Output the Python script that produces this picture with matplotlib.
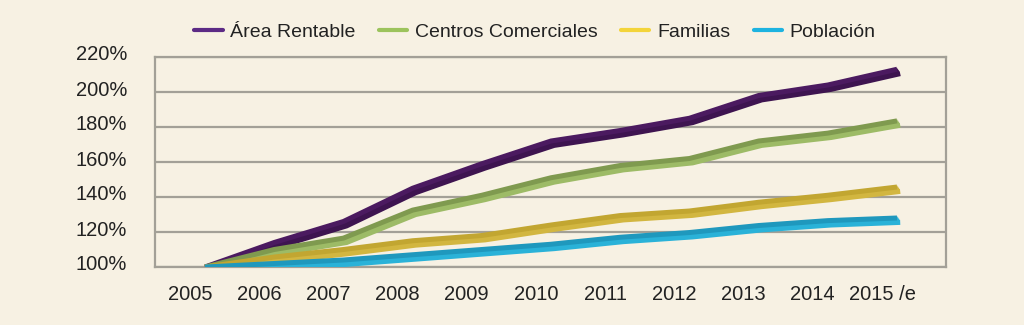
import matplotlib
matplotlib.use('Agg')
import matplotlib.pyplot as plt
import matplotlib.transforms as mtransforms
from matplotlib.lines import Line2D

plt.rcParams['font.family'] = ['Liberation Sans', 'DejaVu Sans']

years = ['2005', '2006', '2007', '2008', '2009', '2010', '2011', '2012', '2013', '2014', '2015 /e']
area_rentable = [100, 114, 126, 145, 159, 172, 178, 185, 198, 204, 213]
centros_comerciales = [100, 110, 116.5, 132.5, 141, 151, 158, 162, 172, 176.5, 183.5]
familias = [100, 105.7, 110, 115, 118, 124, 129.4, 132, 137, 141, 145.7]
poblacion = [100, 102, 104, 107, 110, 113, 117, 119.7, 123.7, 126.5, 128]

series = [
    ('Área Rentable', area_rentable, '#4b1a60', '#3e1450', '#5c2a85'),
    ('Centros Comerciales', centros_comerciales, '#7f9a4f', '#9dbb66', '#9cc35c'),
    ('Familias', familias, '#c2a631', '#d2b640', '#f3d43a'),
    ('Población', poblacion, '#1f98bd', '#2ab2d8', '#1db3e0'),
]

bg = '#f7f1e3'
grid_c = '#a3a097'

fig = plt.figure(figsize=(10.24, 3.25), dpi=100, facecolor=bg)
ax = fig.add_axes([155 / 1024, 1 - 267 / 325, (946 - 155) / 1024, (267 - 57) / 325])
ax.set_facecolor(bg)

x = list(range(len(years)))

handles = []
for name, vals, top_c, side_c, leg_c in series:
    # fake 3D ribbon: stack the side colour at growing offsets, then the top face
    for k in range(4, 0, -1):
        tr = mtransforms.offset_copy(ax.transData, fig=fig, x=0.8 * k, y=-1.1 * k, units='dots')
        ax.plot(x, vals, color=side_c, lw=3.6, transform=tr, solid_joinstyle='miter',
                solid_capstyle='butt', zorder=3)
    ax.plot(x, vals, color=top_c, lw=3.6, solid_joinstyle='miter',
            solid_capstyle='butt', zorder=3)
    handles.append(Line2D([], [], color=leg_c, lw=3, solid_capstyle='round', label=name))

ax.set_xlim(-0.7225, 10.708)
ax.set_ylim(100, 220)
ax.set_yticks(range(100, 221, 20))
ax.set_yticklabels([f'{v}%' for v in range(100, 221, 20)])
ax.set_xticks(x)
ax.set_xticklabels(years)
ax.yaxis.grid(True, color=grid_c, lw=1.6)
ax.set_axisbelow(True)
for s in ax.spines.values():
    s.set_color(grid_c)
    s.set_linewidth(1.6)
ax.tick_params(axis='both', length=0, labelsize=14.5, colors='#222222')
ax.tick_params(axis='y', pad=20)
ax.tick_params(axis='x', pad=13)

shift_x = mtransforms.ScaledTranslation(-15 / 100, 0, fig.dpi_scale_trans)
for lbl in ax.get_xticklabels():
    lbl.set_transform(lbl.get_transform() + shift_x)
shift_y = mtransforms.ScaledTranslation(0, 4 / 100, fig.dpi_scale_trans)
for lbl in ax.get_yticklabels():
    lbl.set_transform(lbl.get_transform() + shift_y)

fig.legend(handles=handles, loc='center', bbox_to_anchor=(535 / 1024, 1 - 32 / 325),
           ncol=4, frameon=False, fontsize=14, handlelength=1.45, handletextpad=0.4,
           columnspacing=1.2, labelcolor='#222222')

plt.savefig('out.png', dpi=100, facecolor=bg)
